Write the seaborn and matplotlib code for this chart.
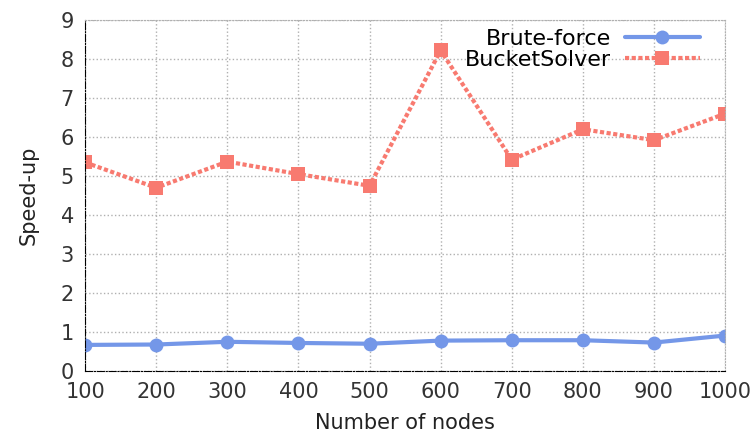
import pandas as pd
import matplotlib
matplotlib.use("Agg")
import matplotlib.pyplot as plt
import seaborn as sns

# dados
nodes = [100, 200, 300, 400, 500, 600, 700, 800, 900, 1000]
brute_force = [0.67, 0.68, 0.75, 0.72, 0.70, 0.78, 0.79, 0.79, 0.73, 0.91]
bucket_solver = [5.35, 4.70, 5.37, 5.05, 4.75, 8.22, 5.42, 6.20, 5.92, 6.60]

df = pd.DataFrame({
    'nodes': nodes * 2,
    'speedup': brute_force + bucket_solver,
    'method': ['Brute-force'] * len(nodes) + ['BucketSolver'] * len(nodes),
})

sns.set_style('white')
plt.rcParams['font.family'] = ['DejaVu Sans']

fig = plt.figure(figsize=(7.53, 4.36), dpi=100)
ax = fig.add_axes([0.113, 0.149, 0.85, 0.805])

palette = {'Brute-force': '#7497e8', 'BucketSolver': '#f87a70'}
sns.lineplot(data=df, x='nodes', y='speedup', hue='method', style='method',
             palette=palette, markers={'Brute-force': 'o', 'BucketSolver': 's'},
             dashes={'Brute-force': '', 'BucketSolver': (1, 0.6)},
             linewidth=3, markersize=10, markeredgewidth=0, ax=ax)

ax.set_xlim(100, 1000)
ax.set_ylim(0, 9)
ax.set_xticks(nodes)
ax.set_yticks(range(10))
ax.tick_params(labelsize=15, colors='#333333', length=0, pad=8)
ax.grid(True, linestyle=':', color='#b0b0b0', linewidth=1)
ax.set_xlabel('Number of nodes', fontsize=15, color='#222222', labelpad=8)
ax.set_ylabel('Speed-up', fontsize=15, color='#222222', labelpad=16)

for side in ['top', 'right']:
    ax.spines[side].set_linestyle(':')
    ax.spines[side].set_color('#b0b0b0')
for side in ['left', 'bottom']:
    ax.spines[side].set_linestyle('-.')
    ax.spines[side].set_color('black')
    ax.spines[side].set_linewidth(0.8)

leg = ax.legend(title=None, loc='upper right', frameon=False, markerfirst=False,
                fontsize=16, handlelength=3.4, borderaxespad=0.0, labelspacing=0.05,
                handletextpad=0.6, bbox_to_anchor=(0.975, 1.0))
for t in leg.get_texts():
    t.set_color('black')

plt.savefig('out.png', dpi=100)
